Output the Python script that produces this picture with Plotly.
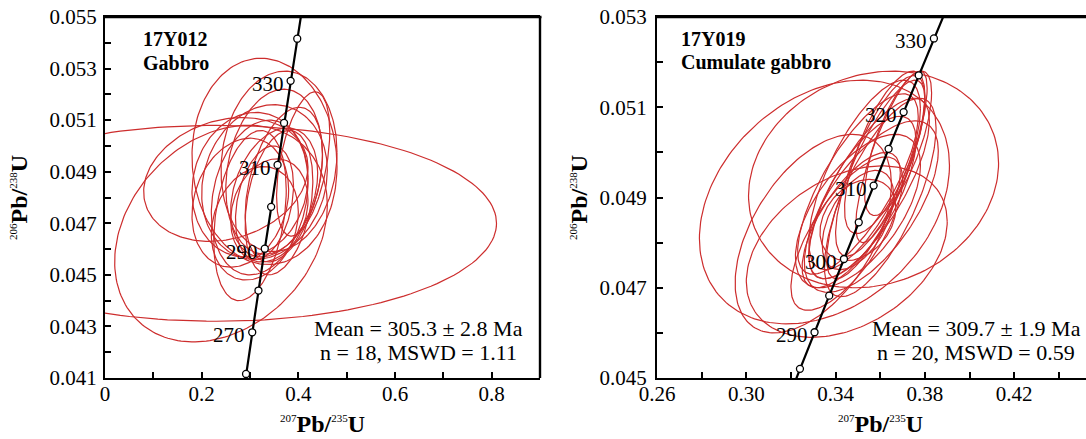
import numpy as np
import plotly.graph_objects as go

# ---------------- constants (decay constants, per Ma) ----------------
LAMBDA_238 = 1.55125e-4
LAMBDA_235 = 9.8485e-4

# ---------------- left panel: 17Y012 Gabbro ----------------
left_cx  = [0.230, 0.240, 0.330, 0.360, 0.410, 0.250, 0.300, 0.320, 0.330,
            0.350, 0.300, 0.340, 0.370, 0.310, 0.350, 0.280, 0.360, 0.330]
left_cy  = [0.0470, 0.0466, 0.0494, 0.0494, 0.0493, 0.0487, 0.0473, 0.0480, 0.0478,
            0.0482, 0.0485, 0.0475, 0.0485, 0.0470, 0.0490, 0.0478, 0.0478, 0.0486]
left_sx  = [0.580, 0.220, 0.150, 0.120, 0.055, 0.170, 0.075, 0.100, 0.060,
            0.090, 0.120, 0.080, 0.080, 0.090, 0.100, 0.100, 0.070, 0.130]
left_sy  = [0.0038, 0.0042, 0.0040, 0.0035, 0.0028, 0.0024, 0.0033, 0.0030, 0.0022,
            0.0025, 0.0028, 0.0020, 0.0030, 0.0022, 0.0032, 0.0025, 0.0028, 0.0030]
left_rho = [0.00, 0.26, -0.05, 0.10, 0.45, 0.20, 0.30, 0.20, 0.30,
            0.30, 0.10, 0.20, 0.40, 0.20, 0.20, 0.20, 0.30, 0.15]
left_marker_ages = [260, 270, 280, 290, 300, 310, 320, 330, 340]
left_label_ages = [270, 290, 310, 330]
left_xticks = [0, 0.2, 0.4, 0.6, 0.8]
left_xticktext = ["0", "0.2", "0.4", "0.6", "0.8"]
left_yticks = [0.041, 0.043, 0.045, 0.047, 0.049, 0.051, 0.053, 0.055]

# ---------------- right panel: 17Y019 Cumulate gabbro ----------------
right_cx  = [0.357, 0.335, 0.345, 0.330, 0.355, 0.352, 0.358, 0.350, 0.360, 0.347,
             0.362, 0.356, 0.353, 0.350, 0.365, 0.350, 0.360, 0.350, 0.368, 0.345]
right_cy  = [0.0494, 0.0489, 0.0478, 0.0482, 0.0492, 0.0490, 0.0494, 0.0487, 0.0497, 0.0485,
             0.0500, 0.0488, 0.0495, 0.0493, 0.0499, 0.0485, 0.0490, 0.0485, 0.0502, 0.0482]
right_sx  = [0.056, 0.056, 0.045, 0.035, 0.027, 0.024, 0.022, 0.028, 0.020, 0.022,
             0.018, 0.030, 0.025, 0.027, 0.016, 0.017, 0.025, 0.016, 0.015, 0.025]
right_sy  = [0.0024, 0.0027, 0.0019, 0.0022, 0.0020, 0.0018, 0.0022, 0.0017, 0.0020, 0.0015,
             0.0018, 0.0019, 0.0021, 0.0020, 0.0019, 0.0009, 0.0022, 0.0011, 0.0016, 0.0017]
right_rho = [0.15, 0.30, 0.35, 0.50, 0.75, 0.70, 0.80, 0.60, 0.75, 0.70,
             0.70, 0.65, 0.70, 0.75, 0.80, 0.30, 0.70, 0.50, 0.70, 0.70]
right_marker_ages = [285, 290, 295, 300, 305, 310, 315, 320, 325, 330]
right_label_ages = [290, 300, 310, 320, 330]
right_xticks = [0.26, 0.30, 0.34, 0.38, 0.42, 0.46]
right_yticks = [0.045, 0.047, 0.049, 0.051, 0.053]

ELLIPSE_COLOR = "rgb(205,45,45)"
FONT = "Liberation Serif"


def concordia(ages):
    a = np.asarray(ages, dtype=float)
    return np.exp(LAMBDA_235 * a) - 1.0, np.exp(LAMBDA_238 * a) - 1.0


def ellipse(cx, cy, sx, sy, rho, n=181):
    t = np.linspace(0, 2 * np.pi, n)
    x = cx + sx * np.cos(t)
    y = cy + sy * (rho * np.cos(t) + np.sqrt(1 - rho ** 2) * np.sin(t))
    return x, y


fig = go.Figure()

panels = [
    dict(cx=left_cx, cy=left_cy, sx=left_sx, sy=left_sy, rho=left_rho,
         ages=left_marker_ages, labels=left_label_ages, xa="x", ya="y",
         line_ages=np.linspace(230, 370, 200)),
    dict(cx=right_cx, cy=right_cy, sx=right_sx, sy=right_sy, rho=right_rho,
         ages=right_marker_ages, labels=right_label_ages, xa="x2", ya="y2",
         line_ages=np.linspace(270, 350, 200)),
]

for p in panels:
    for cx, cy, sx, sy, r in zip(p["cx"], p["cy"], p["sx"], p["sy"], p["rho"]):
        ex, ey = ellipse(cx, cy, sx, sy, r)
        fig.add_trace(go.Scatter(x=ex, y=ey, mode="lines", xaxis=p["xa"], yaxis=p["ya"],
                                 line=dict(color=ELLIPSE_COLOR, width=1.2),
                                 hoverinfo="skip", showlegend=False))
    lx, ly = concordia(p["line_ages"])
    fig.add_trace(go.Scatter(x=lx, y=ly, mode="lines", xaxis=p["xa"], yaxis=p["ya"],
                             line=dict(color="black", width=2.2), showlegend=False))
    mx, my = concordia(p["ages"])
    fig.add_trace(go.Scatter(x=mx, y=my, mode="markers", xaxis=p["xa"], yaxis=p["ya"],
                             marker=dict(symbol="circle", size=7, color="white",
                                         line=dict(color="black", width=1.3)),
                             cliponaxis=False, showlegend=False))
    tx, ty = concordia(p["labels"])
    for age, x, y in zip(p["labels"], tx, ty):
        fig.add_annotation(x=x, y=y, xref=p["xa"], yref=p["ya"], text=str(age),
                           showarrow=False, xanchor="right", yanchor="middle",
                           xshift=-5, yshift=-3,
                           font=dict(family=FONT, size=21, color="black"))

W, H = 1086, 439
def px(xp):
    return xp / W
def py(yp):
    return 1 - yp / H

axis_common = dict(showline=True, linecolor="black", linewidth=2, ticks="inside",
                   ticklen=6, tickwidth=1.5, tickcolor="black", showgrid=False,
                   zeroline=False, automargin=False,
                   ticklabeloverflow="allow",
                   tickfont=dict(family=FONT, size=21, color="black"))

L_X0, L_X1, TOP, BOT = 105, 540, 17, 378
RIGHT_X0 = 657
RIGHT_PX_PER_UNIT = 2232.5
right_x_end = 0.26 + (W - RIGHT_X0) / RIGHT_PX_PER_UNIT

fig.update_layout(
    template="none",
    width=W, height=H, margin=dict(l=0, r=0, t=0, b=0, pad=0),
    paper_bgcolor="white", plot_bgcolor="white", showlegend=False,
    xaxis=dict(domain=[px(L_X0), px(L_X1)], range=[0, 0.9], anchor="y", mirror=True,
               tickvals=left_xticks, ticktext=left_xticktext, ticklabelstandoff=-4,
               minor=dict(dtick=0.1, ticks="inside", ticklen=6, tickwidth=1.5, tickcolor="black", tick0=0),
               **axis_common),
    yaxis=dict(domain=[py(BOT), py(TOP)], range=[0.041, 0.055], anchor="x", mirror=False,
               tickvals=left_yticks, tickformat=".3f", ticklabelstandoff=2,
               minor=dict(dtick=0.001, ticks="inside", ticklen=6, tickwidth=1.5, tickcolor="black", tick0=0.041),
               **axis_common),
    xaxis2=dict(domain=[px(RIGHT_X0), 1.0], range=[0.26, right_x_end], anchor="y2", mirror=True,
                tickvals=right_xticks, tickformat=".2f", ticklabelstandoff=-4,
                minor=dict(dtick=0.02, ticks="inside", ticklen=6, tickwidth=1.5, tickcolor="black", tick0=0.26),
                **axis_common),
    yaxis2=dict(domain=[py(BOT), py(TOP)], range=[0.045, 0.053], anchor="x2", mirror=False,
                tickvals=right_yticks, tickformat=".3f", ticklabelstandoff=4,
                minor=dict(dtick=0.001, ticks="inside", ticklen=6, tickwidth=1.5, tickcolor="black", tick0=0.045),
                **axis_common),
)

# frame bars in paper coordinates: left panel top + right, right panel top
bar = dict(type="rect", xref="paper", yref="paper", fillcolor="black",
           line=dict(width=0), layer="above")
fig.add_shape(x0=px(L_X0), x1=px(L_X1 + 1.5), y0=py(TOP + 1.3), y1=py(TOP - 1.3), **bar)
fig.add_shape(x0=px(L_X1 - 1.2), x1=px(L_X1 + 1.2), y0=py(BOT), y1=py(TOP), **bar)
fig.add_shape(x0=px(RIGHT_X0), x1=1.0, y0=py(TOP + 1.3), y1=py(TOP - 1.3), **bar)

sup = lambda s: "<sup><span style='font-size:11px'>%s</span></sup>" % s
xtitle = sup("207") + "<b>Pb/</b>" + sup("235") + "<b>U</b>"
ytitle = sup("206") + "<b>Pb/</b>" + sup("238") + "<b>U</b>"

texts = [
    # (x_px, y_px, text, size, angle, anchor)
    (322, 424, xtitle, 24, 0, "center"),
    (880, 424, xtitle, 24, 0, "center"),
    (19, 198, ytitle, 24, -90, "center"),
    (579, 198, ytitle, 24, -90, "center"),
    (141, 39, "<b>17Y012</b>", 20, 0, "left"),
    (141, 63, "<b>Gabbro</b>", 20, 0, "left"),
    (679, 39, "<b>17Y019</b>", 20, 0, "left"),
    (679, 63, "<b>Cumulate gabbro</b>", 20, 0, "left"),
    (418, 328, "Mean = 305.3 ± 2.8 Ma", 22, 0, "center"),
    (418, 352, "n = 18, MSWD = 1.11", 22, 0, "center"),
    (976, 328, "Mean = 309.7 ± 1.9 Ma", 22, 0, "center"),
    (976, 352, "n = 20, MSWD = 0.59", 22, 0, "center"),
]
for x, y, t, s, ang, anc in texts:
    fig.add_annotation(x=px(x), y=py(y), xref="paper", yref="paper", text=t,
                       showarrow=False, xanchor=anc, yanchor="middle", textangle=ang,
                       font=dict(family=FONT, size=s, color="black"))

# remove the default page margin so the figure sits at the window's top-left corner
fig.write_html("out.html", config={"displayModeBar": False},
               post_script="document.body.style.margin='0px';")
